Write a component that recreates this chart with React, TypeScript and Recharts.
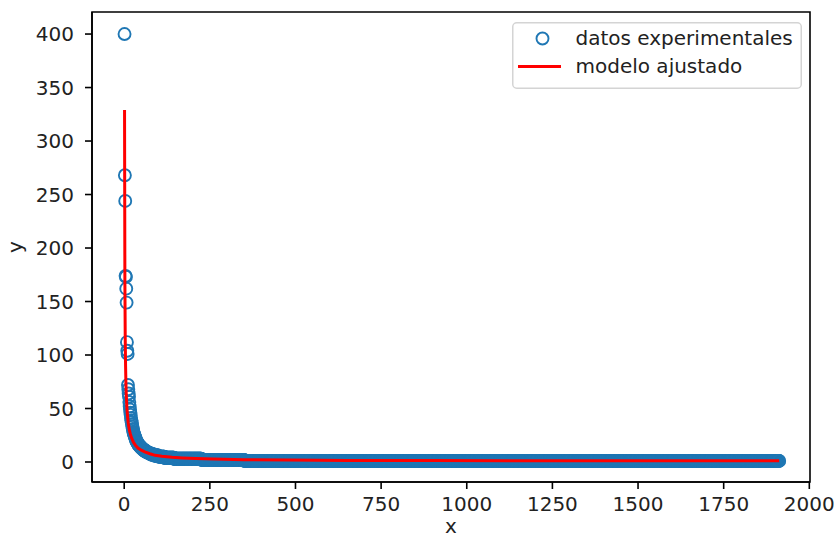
import { ComposedChart, Scatter, XAxis, YAxis, Legend, Label, ReferenceArea } from "recharts";

const FONT = "'DejaVu Sans', sans-serif";
const INK = "#222";
const BLUE = "#1f77b4";
const RED = "#ff0000";

const X_DOMAIN: [number, number] = [-94, 2002];
const Y_DOMAIN: [number, number] = [-18.7, 420.6];

// frequency by rank: the first ranks one by one, then runs of equal frequency
const headFrequencies = [
  400, 268, 244, 174, 173, 162, 149, 112, 104, 101, 72, 68, 64, 61, 56, 52, 49, 46, 44, 41,
  39, 37, 35, 33, 31, 30, 28, 27, 26, 25, 24, 23, 22, 21, 20,
];
const runFrequencies = [19, 18, 17, 16, 15, 14, 13, 12, 11, 10, 9, 8, 7, 6, 5, 4, 3, 2, 1];
const runLengths = [2, 2, 2, 2, 3, 3, 3, 4, 4, 5, 6, 7, 9, 12, 18, 28, 80, 125, 1562];

// fitted curve, sampled along x
const modelX = [1, 2, 3, 4, 5, 6, 8, 10, 12, 15, 18, 22, 27, 33, 40, 50, 60, 75, 90, 110, 140, 170, 210, 260, 350, 480, 650, 900, 1200, 1500, 1912];
const modelY = [329, 170, 115, 90, 74, 63, 50, 42, 36, 30, 26, 22, 18.5, 15.5, 13, 11, 9.5, 7.7, 6.2, 5.3, 4.4, 3.8, 3.2, 2.7, 2.2, 1.8, 1.5, 1.35, 1.25, 1.2, 1.15];

const xTicks = [0, 250, 500, 750, 1000, 1250, 1500, 1750, 2000];
const yTicks = [0, 50, 100, 150, 200, 250, 300, 350, 400];

const experimental: { x: number; y: number }[] = [];
headFrequencies.forEach((f) => experimental.push({ x: experimental.length + 1, y: f }));
runFrequencies.forEach((f, i) => {
  for (let k = 0; k < runLengths[i]; k++) experimental.push({ x: experimental.length + 1, y: f });
});

const model = modelX.map((x, i) => ({ x, y: modelY[i] }));

const axisStroke = { stroke: "#000", strokeWidth: 1.6 };
const tickStyle = { fill: INK, fontSize: 20, fontFamily: FONT };

const OpenCircle = (props: any) => (
  <circle cx={props.cx} cy={props.cy} r={6} fill="none" stroke={BLUE} strokeWidth={1.9} />
);
const NoMarker = () => <g />;

const XTitle = ({ viewBox }: any) => (
  <text x={viewBox.x + viewBox.width / 2} y={viewBox.y + 51} textAnchor="middle" fill={INK} fontSize={20} fontFamily={FONT}>
    x
  </text>
);

const YTitle = ({ viewBox }: any) => {
  const cx = viewBox.x + 22;
  const cy = viewBox.y + viewBox.height / 2;
  return (
    <text x={cx} y={cy} transform={`rotate(-90 ${cx} ${cy})`} textAnchor="middle" fill={INK} fontSize={20} fontFamily={FONT}>
      y
    </text>
  );
};

const LegendBox = () => (
  <svg width={290} height={67} style={{ display: "block", fontFamily: FONT }}>
    <rect x={0.75} y={0.75} width={288.5} height={65.5} rx={4} fill="rgba(255,255,255,0.8)" stroke="#d4d4d4" strokeWidth={1.5} />
    <circle cx={30.5} cy={16.5} r={6} fill="none" stroke={BLUE} strokeWidth={1.9} />
    <line x1={6} x2={49} y1={44.5} y2={44.5} stroke={RED} strokeWidth={3} />
    <text x={63.5} y={23} fill={INK} fontSize={20}>datos experimentales</text>
    <text x={63.5} y={51.3} fill={INK} fontSize={20}>modelo ajustado</text>
  </svg>
);

export default function App() {
  return (
    <div style={{ position: "absolute", left: 0, top: 0, width: 834, height: 539, background: "#fff" }}>
      <ComposedChart width={834} height={539} margin={{ top: 12, right: 24, bottom: 0, left: 0 }}>
        <XAxis
          type="number"
          dataKey="x"
          domain={X_DOMAIN}
          allowDataOverflow
          ticks={xTicks}
          interval={0}
          height={57}
          tickSize={7}
          tickMargin={8}
          axisLine={axisStroke}
          tickLine={axisStroke}
          tick={tickStyle}
        >
          <Label content={XTitle} />
        </XAxis>
        <YAxis
          type="number"
          dataKey="y"
          domain={Y_DOMAIN}
          allowDataOverflow
          ticks={yTicks}
          interval={0}
          width={92}
          tickSize={7}
          tickMargin={11}
          axisLine={axisStroke}
          tickLine={axisStroke}
          tick={tickStyle}
        >
          <Label content={YTitle} />
        </YAxis>
        <Scatter name="datos experimentales" data={experimental} dataKey="y" shape={OpenCircle} isAnimationActive={false} />
        {/* fitted curve drawn as a connected scatter so it sits above the markers */}
        <Scatter
          name="modelo ajustado"
          data={model}
          dataKey="y"
          shape={NoMarker}
          line={{ stroke: RED, strokeWidth: 3, fill: "none" }}
          lineType="joint"
          isAnimationActive={false}
        />
        {/* plot frame */}
        <ReferenceArea
          x1={X_DOMAIN[0]}
          x2={X_DOMAIN[1]}
          y1={Y_DOMAIN[0]}
          y2={Y_DOMAIN[1]}
          fill="none"
          fillOpacity={0}
          stroke="#000"
          strokeWidth={1.6}
          ifOverflow="visible"
        />
        <Legend
          layout="vertical"
          align="center"
          verticalAlign="middle"
          wrapperStyle={{ left: 512, top: 22, width: 290, height: 67 }}
          content={LegendBox}
        />
      </ComposedChart>
    </div>
  );
}
